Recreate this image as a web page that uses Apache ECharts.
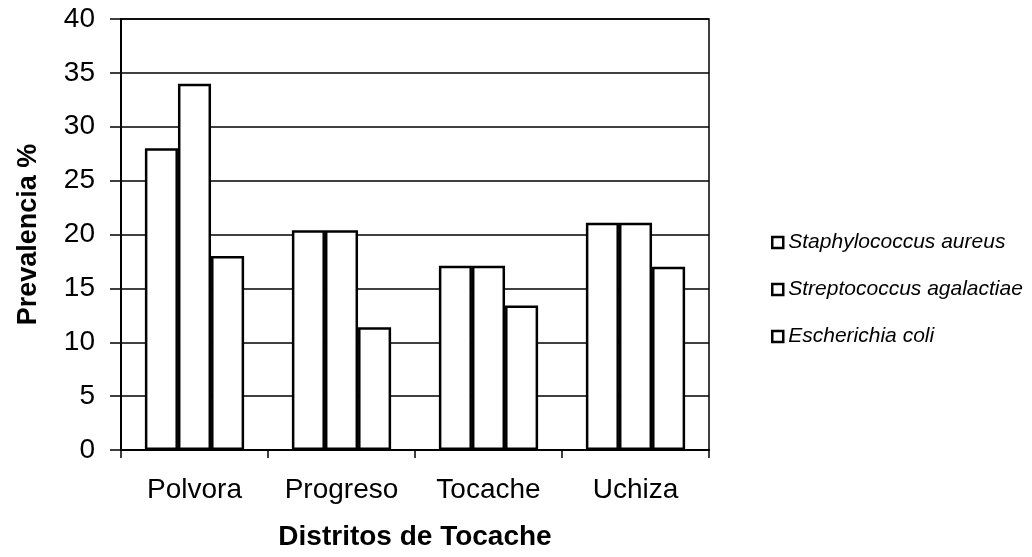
<!DOCTYPE html>
<html>
<head>
<meta charset="utf-8">
<script src="https://cdn.jsdelivr.net/npm/echarts@6/dist/echarts.min.js"></script>
<style>
html,body{margin:0;padding:0;background:#fff;}
#chart{width:1032px;height:557px;}
</style>
</head>
<body>
<div id="chart"></div>
<script>
const categories = ['Polvora', 'Progreso', 'Tocache', 'Uchiza'];
const seriesNames = ['Staphylococcus aureus', 'Streptococcus agalactiae', 'Escherichia coli'];
const staphValues = [28, 20.4, 17.1, 21.1];
const strepValues = [34, 20.4, 17.1, 21.1];
const ecoliValues = [18, 11.4, 13.4, 17];
const yTicks = { min: 0, max: 40, interval: 5 };

const font = '"Liberation Sans", Arial, Helvetica, sans-serif';
const barStyle = { color: '#ffffff', borderColor: '#000000', borderWidth: 2.5 };

function mkSeries(name, data) {
  return {
    name: name, type: 'bar', data: data,
    itemStyle: barStyle,
    barGap: '0%', barCategoryGap: '32.5%',
    emphasis: { disabled: true }
  };
}

const chart = echarts.init(document.getElementById('chart'), null, { renderer: 'canvas' });
chart.setOption({
  animation: false,
  backgroundColor: '#ffffff',
  grid: { left: 121, right: 323, top: 19, bottom: 107, show: true, borderColor: '#000', borderWidth: 1.5, backgroundColor: 'transparent' },
  legend: {
    orient: 'vertical', left: 766, top: 227,
    itemWidth: 11, itemHeight: 11, itemGap: 26,
    icon: 'rect',
    itemStyle: { color: '#fff', borderColor: '#000', borderWidth: 2.5 },
    textStyle: { fontFamily: font, fontSize: 21, fontStyle: 'italic', color: '#000' },
    data: seriesNames
  },
  xAxis: {
    type: 'category', data: categories,
    name: 'Distritos de Tocache', nameLocation: 'middle', nameGap: 73,
    nameTextStyle: { fontFamily: font, fontSize: 28, fontWeight: 'bold', color: '#000' },
    axisLine: { lineStyle: { color: '#000', width: 2 } },
    axisTick: { show: true, length: 8, interval: 0, lineStyle: { color: '#000', width: 1.5 } },
    axisLabel: { fontFamily: font, fontSize: 28, color: '#000', margin: 26, interval: 0 }
  },
  yAxis: {
    type: 'value', min: yTicks.min, max: yTicks.max, interval: yTicks.interval,
    name: 'Prevalencia %', nameLocation: 'middle', nameGap: 79, nameRotate: 90,
    nameTextStyle: { fontFamily: font, fontSize: 27, fontWeight: 'bold', color: '#000' },
    axisLine: { show: true, lineStyle: { color: '#000', width: 2 } },
    axisTick: { show: true, length: 11, lineStyle: { color: '#000', width: 1.5 } },
    axisLabel: { fontFamily: font, fontSize: 28, color: '#000', margin: 26 },
    splitLine: { show: true, lineStyle: { color: '#000', width: 1.5 } }
  },
  series: [
    mkSeries(seriesNames[0], staphValues),
    mkSeries(seriesNames[1], strepValues),
    mkSeries(seriesNames[2], ecoliValues)
  ]
});
</script>
</body>
</html>
